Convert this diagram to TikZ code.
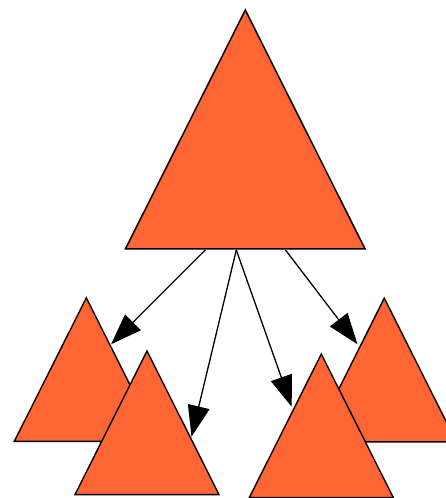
\documentclass[tikz,border=0pt]{standalone}
\usepackage{tikz}
\usetikzlibrary{arrows.meta,calc}

\definecolor{trifill}{HTML}{FF6633}

\begin{document}
\begin{tikzpicture}[
  x=1pt, y=-1pt,
  bigtri/.style={fill=trifill, draw=black, line width=1.5pt, line join=miter},
  smalltri/.style={fill=trifill, draw=black, line width=1.4pt, line join=miter},
  childarrow/.style={draw=black, line width=1.3pt, -{Triangle[length=31pt, width=22pt]}}
]
\useasboundingbox (0,0) rectangle (446,498);

% --- parent triangle ---
\coordinate (top) at (245.3,10);
\draw[bigtri] (top) -- (125.5,248.8) -- (365,248.8) -- cycle;

% --- children: back row first, then front row ---
\coordinate (lback)  at (86.3,297.8);
\coordinate (rback)  at (384.3,298.2);
\coordinate (lfront) at (147,351);
\coordinate (rfront) at (321.3,354);
\foreach \t in {lback,rback,lfront,rfront}
  \draw[smalltri] (\t) -- ++(-72,143.6) -- ++(144,0) -- cycle;

% --- arrow ends on the base of the parent ---
\coordinate (s1) at (205.3,250);
\coordinate (s2) at (236.3,250);
\coordinate (s3) at (285.5,250);

% --- arrow tips on the children ---
\coordinate (e1) at (111,344.3);
\coordinate (e2) at (191.5,436.7);
\coordinate (e3) at (291.7,406.7);
\coordinate (e4) at (357.5,344.3);

\draw[childarrow] (s1) -- (e1);
\draw[childarrow] (s2) -- (e2);
\draw[childarrow] (s2) -- (e3);
\draw[childarrow] (s3) -- (e4);

\end{tikzpicture}
\end{document}
